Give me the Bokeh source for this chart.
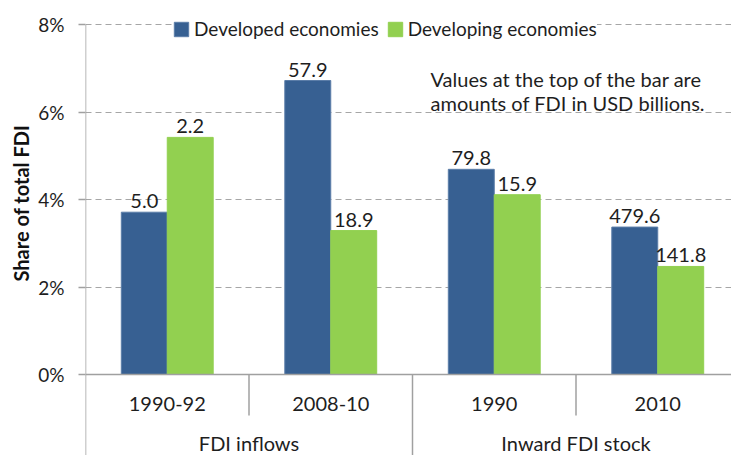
from bokeh.plotting import figure
from bokeh.models import (Range1d, FixedTicker, PrintfTickFormatter, ColumnDataSource,
                          Label, Legend, LegendItem, Title)
from bokeh.core.properties import value
from bokeh.embed import file_html
from bokeh.resources import INLINE

# ---------------- data ----------------
categories = ["1990-92", "2008-10", "1990", "2010"]
groups = ["FDI inflows", "Inward FDI stock"]
group_sizes = [2, 2]
series_names = ["Developed economies", "Developing economies"]
developed_share = [3.71, 6.72, 4.69, 3.37]      # % of total FDI
developing_share = [5.42, 3.29, 4.11, 2.47]
developed_usd = ["5.0", "57.9", "79.8", "479.6"]  # USD billions
developing_usd = ["2.2", "18.9", "15.9", "141.8"]
y_ticks = [0, 2, 4, 6, 8]
y_title = "Share of total FDI"
note_lines = ["Values at the top of the bar are", "amounts of FDI in USD billions."]

# ---------------- style ----------------
FONT = "Lato"
BLUE = "#376092"
GREEN = "#92D050"
AXIS = "#A0A0A0"
GRID = "#A6A6A6"
TXT = "#1E1E1E"
FS = "20px"

W, H = 731, 455
FRAME_LEFT = 85
PX_CAT = 163.5
PX_PCT = 43.75
ZERO_PX = 374            # y of 0% inside the figure
TOP_PX = 24              # y of top tick inside the figure

x_end = (W - FRAME_LEFT) / PX_CAT
y_end = y_ticks[-1] + TOP_PX / PX_PCT
y_start = -(H - ZERO_PX) / PX_PCT

BAR_W = 0.281
OFF = BAR_W / 2

p = figure(width=W, height=H, output_backend="svg", toolbar_location=None,
           x_range=Range1d(0, x_end), y_range=Range1d(y_start, y_end),
           x_axis_location=None, min_border_left=FRAME_LEFT, min_border_right=0,
           min_border_top=0, min_border_bottom=0)
p.outline_line_color = None
p.background_fill_color = "white"
p.border_fill_color = "white"

# grid
p.xgrid.visible = False
p.ygrid.ticker = FixedTicker(ticks=[t for t in y_ticks if t != 0])
p.ygrid.grid_line_color = GRID
p.ygrid.grid_line_dash = "6 4"
p.ygrid.grid_line_width = 1

# y axis
ax = p.yaxis[0]
ax.ticker = FixedTicker(ticks=y_ticks)
ax.formatter = PrintfTickFormatter(format="%d%%")
ax.axis_line_color = None
ax.major_tick_line_color = AXIS
ax.major_tick_line_width = 1.5
ax.major_tick_out = 7
ax.major_tick_in = 0
ax.minor_tick_line_color = None
ax.major_label_text_font = FONT
ax.major_label_text_font_size = "19px"
ax.major_label_text_color = TXT
ax.major_label_standoff = 14

# y axis title (as a side title so it can be centred on the tick span)
p.add_layout(Title(text=y_title, align="left", offset=174, text_font=FONT,
                   text_font_style="bold", text_font_size="20px",
                   text_color="#111111", standoff=6), "left")

# bars
n = len(categories)
centers = [i + 0.5 for i in range(n)]
src = ColumnDataSource(dict(
    xd=[c - OFF for c in centers], xg=[c + OFF for c in centers],
    dev=developed_share, deving=developing_share,
    dev_lbl=developed_usd, deving_lbl=developing_usd,
    xc=centers, cat=categories, zero=[0] * n,
))
r_dev = p.vbar(x="xd", top="dev", width=BAR_W, bottom=0, source=src,
               fill_color=BLUE, line_color="#5B7DA8", line_width=1)
r_deving = p.vbar(x="xg", top="deving", width=BAR_W, bottom=0, source=src,
                  fill_color=GREEN, line_color=GREEN, line_width=1)

# value labels
for xcol, ycol, tcol in [("xd", "dev", "dev_lbl"), ("xg", "deving", "deving_lbl")]:
    p.text(x=xcol, y=ycol, text=tcol, source=src, text_align="center",
           text_baseline="alphabetic", y_offset=-11, text_font=value(FONT),
           text_font_size=FS, text_color=TXT)

# axis lines (zero line and left axis)
p.segment(x0=[0], y0=[0], x1=[x_end], y1=[0], line_color=AXIS, line_width=1.5)
p.segment(x0=[0], y0=[y_ticks[-1]], x1=[0], y1=[y_start], line_color=AXIS, line_width=1.5)

# category separators
SHORT = -41 / PX_PCT
bounds = []
acc = 0
for g in group_sizes:
    acc += g
    bounds.append(acc)
sx, sy0, sy1 = [], [], []
for b in range(1, n + 1):
    sx.append(b)
    sy0.append(0)
    sy1.append(y_start if b in bounds else SHORT)
p.segment(x0=sx, y0=sy0, x1=sx, y1=sy1, line_color=AXIS, line_width=1.5)

# category labels
p.text(x="xc", y="zero", text="cat", source=src, text_align="center",
       text_baseline="middle", y_offset=29, text_font=value(FONT),
       text_font_size=FS, text_color=TXT)

# group labels
gx = []
start = 0
for g in group_sizes:
    gx.append(start + g / 2)
    start += g
gsrc = ColumnDataSource(dict(x=gx, y=[0] * len(groups), t=groups))
p.text(x="x", y="y", text="t", source=gsrc, text_align="center",
       text_baseline="middle", y_offset=68, text_font=value(FONT),
       text_font_size=FS, text_color=TXT)

# note
for i, line in enumerate(note_lines):
    p.add_layout(Label(x=(430 - FRAME_LEFT) / PX_CAT, y=(ZERO_PX - 78 - 24 * i) / PX_PCT,
                       text=line, text_font=FONT, text_font_size=FS,
                       text_color=TXT, text_baseline="alphabetic"))

# legend
legend = Legend(items=[LegendItem(label=series_names[0], renderers=[r_dev]),
                       LegendItem(label=series_names[1], renderers=[r_deving])],
                location=(87, 415), orientation="horizontal",
                label_text_font=FONT, label_text_font_size="19px", label_text_color=TXT,
                glyph_width=18, glyph_height=18, label_standoff=4, spacing=7,
                padding=4, margin=0, border_line_color=None,
                background_fill_color="white", background_fill_alpha=1.0)
p.add_layout(legend)

open("out.html", "w").write(file_html(p, INLINE))
